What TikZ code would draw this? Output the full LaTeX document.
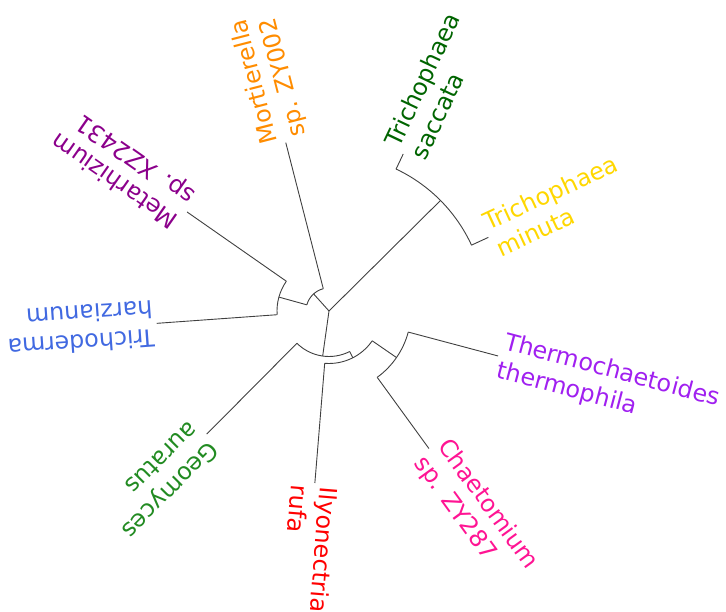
\documentclass[tikz,border=0pt]{standalone}
\usepackage{fontspec}
\setmainfont{DejaVu Sans}
\definecolor{cMor}{HTML}{FF8C00}
\definecolor{cSac}{HTML}{006400}
\definecolor{cMin}{HTML}{FFD700}
\definecolor{cThe}{HTML}{A020F0}
\definecolor{cCha}{HTML}{FF1493}
\definecolor{cIly}{HTML}{FF0000}
\definecolor{cGeo}{HTML}{228B22}
\definecolor{cTri}{HTML}{4169E1}
\definecolor{cMet}{HTML}{8B008B}
\begin{document}
\begin{tikzpicture}[x=1pt,y=1pt,
  br/.style={draw=black!75, line width=0.9pt},
  lab/.style={anchor=west, align=left, inner xsep=3pt, inner ysep=0pt,
    font=\fontsize{23.8}{29}\selectfont}]
\useasboundingbox (0,0) rectangle (726,612);
\begin{scope}[shift={(329,301)}]
% internal nodes and arc ends
\coordinate (R) at (0,0);
\coordinate (N1) at (44.75:157pt);
\coordinate (N1a) at (64.7:157pt);
\coordinate (N1b) at (24.8:157pt);
\coordinate (N2) at (132:23pt);
\coordinate (N2a) at (104.4:23pt);
\coordinate (N2b) at (164.5:23pt);
\coordinate (D) at (164.5:52pt);
\coordinate (Da) at (145.1:52pt);
\coordinate (Db) at (184.1:52pt);
\coordinate (A) at (262:45.5pt);
\coordinate (Aa) at (225.2:45.5pt);
\coordinate (Ab) at (297:45.5pt);
\coordinate (B) at (297:52.5pt);
\coordinate (Ba) at (265.3:52.5pt);
\coordinate (Bb) at (325.4:52.5pt);
\coordinate (C) at (325.4:82pt);
\coordinate (Ca) at (306:82pt);
\coordinate (Cb) at (345.1:82pt);
% tips
\coordinate (Tsac) at (64.7:173.7pt);
\coordinate (Tmin) at (24.8:175.5pt);
\coordinate (Tmor) at (104.4:173.8pt);
\coordinate (Tmet) at (145.1:173.1pt);
\coordinate (Ttri) at (184.1:172.7pt);
\coordinate (Tgeo) at (225.2:173.5pt);
\coordinate (Tily) at (265.3:172.6pt);
\coordinate (Tcha) at (306:170pt);
\coordinate (Tthe) at (345.1:174.9pt);
% branches
\draw[br] (R) -- (N1);
\draw[br] (R) -- (N2);
\draw[br] (R) -- (A);
\draw[br] (N1a) arc[start angle=64.7, end angle=24.8, radius=157pt];
\draw[br] (N1a) -- (Tsac);
\draw[br] (N1b) -- (Tmin);
\draw[br] (N2a) arc[start angle=104.4, end angle=164.5, radius=23pt];
\draw[br] (N2a) -- (Tmor);
\draw[br] (N2b) -- (D);
\draw[br] (Da) arc[start angle=145.1, end angle=184.1, radius=52pt];
\draw[br] (Da) -- (Tmet);
\draw[br] (Db) -- (Ttri);
\draw[br] (Aa) arc[start angle=225.2, end angle=297, radius=45.5pt];
\draw[br] (Aa) -- (Tgeo);
\draw[br] (Ab) -- (B);
\draw[br] (Ba) arc[start angle=265.3, end angle=325.4, radius=52.5pt];
\draw[br] (Ba) -- (Tily);
\draw[br] (Bb) -- (C);
\draw[br] (Ca) arc[start angle=306, end angle=345.1, radius=82pt];
\draw[br] (Ca) -- (Tcha);
\draw[br] (Cb) -- (Tthe);
% labels
\node[lab, text=cMor, rotate=104.4] (Lmor) at (Tmor) {Mortierella\\sp. ZY002};
\node[lab, text=cSac, rotate=64.7] (Lsac) at (Tsac) {Trichophaea\\saccata};
\node[lab, text=cMin, rotate=24.8] (Lmin) at (Tmin) {Trichophaea\\minuta};
\node[lab, text=cThe, rotate=345.1] (Lthe) at (Tthe) {Thermochaetoides\\thermophila};
\node[lab, text=cCha, rotate=306] (Lcha) at (Tcha) {Chaetomium\\sp. ZY287};
\node[lab, text=cIly, rotate=265.3] (Lily) at (Tily) {Ilyonectria\\rufa};
\node[lab, text=cGeo, rotate=225.2] (Lgeo) at (Tgeo) {Geomyces\\auratus};
\node[lab, text=cTri, rotate=184.1] (Ltri) at (Ttri) {Trichoderma\\harzianum};
\node[lab, text=cMet, rotate=145.1] (Lmet) at (Tmet) {Metarhizium\\sp. XZ2431};
\end{scope}
\end{tikzpicture}
\end{document}
